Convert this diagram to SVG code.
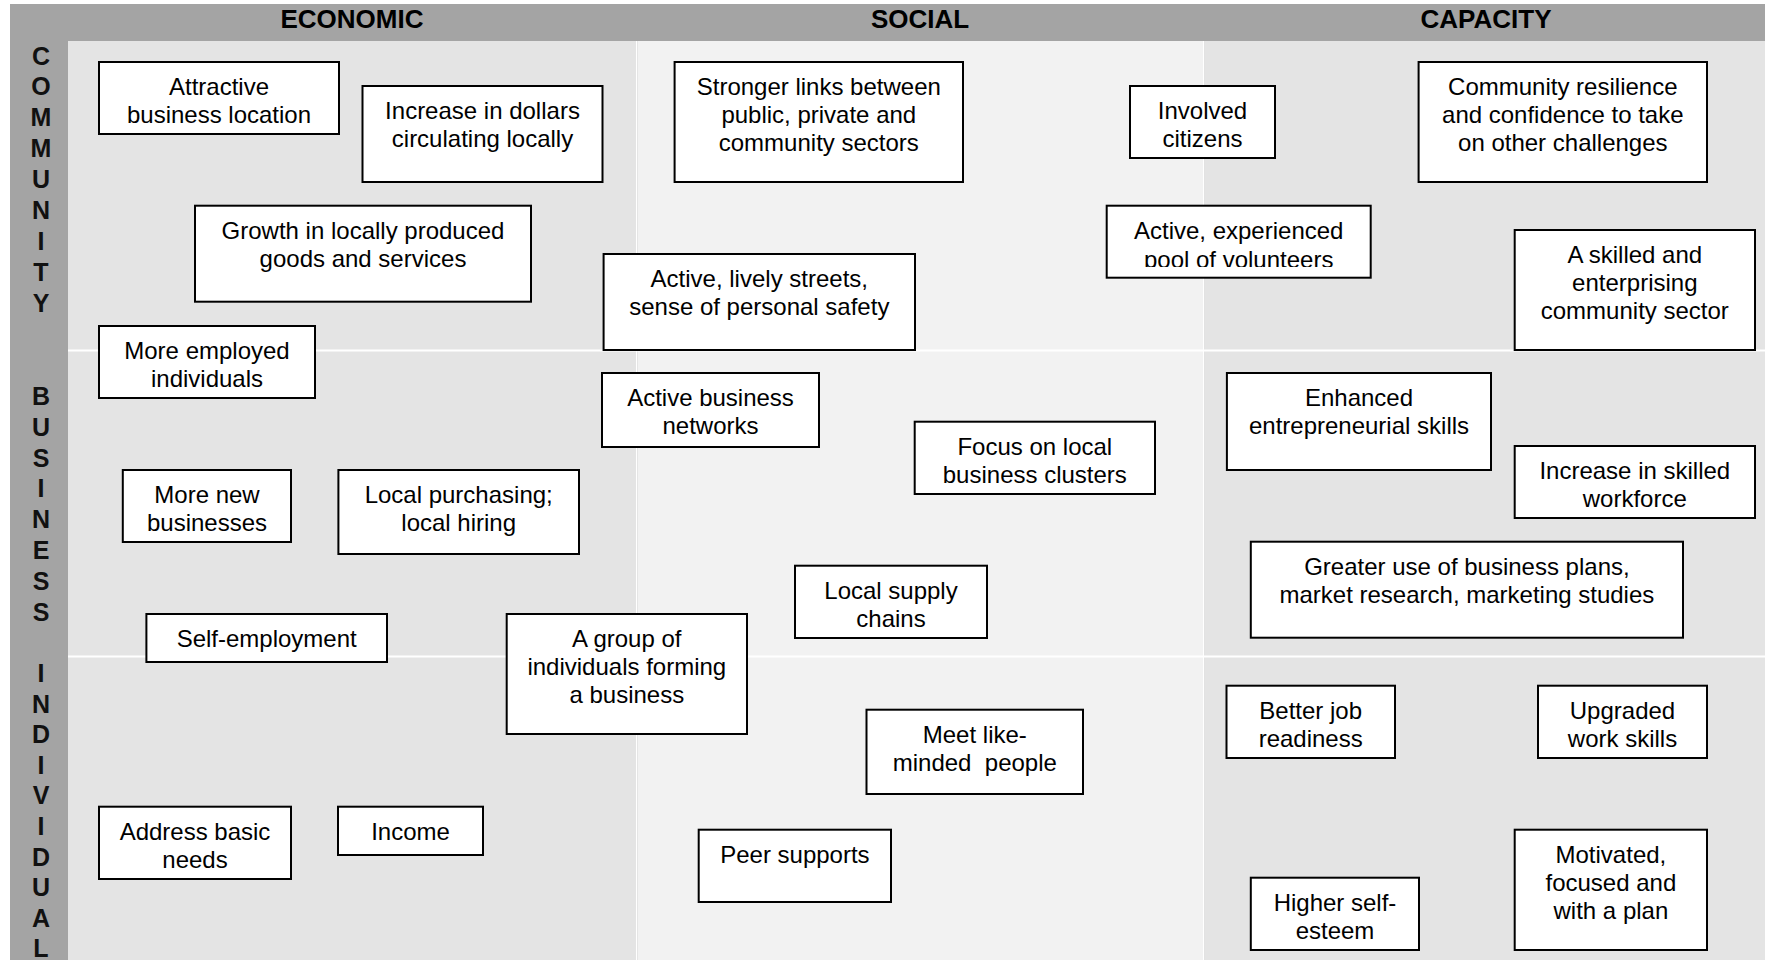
<svg xmlns="http://www.w3.org/2000/svg" width="1765" height="960" viewBox="0 0 1765 960">
<style>
.frame{fill:#a4a4a4}
.colA{fill:#e4e4e4}
.colB{fill:#f2f2f2}
.div{fill:#ffffff}
.hdr{font-family:"Liberation Sans",Arial,sans-serif;font-weight:bold;font-size:26px;fill:#000;text-anchor:middle}
.side{font-family:"Liberation Sans",Arial,sans-serif;font-weight:bold;font-size:25px;fill:#111;text-anchor:middle}
.box rect{fill:#fff;stroke:#000;stroke-width:2}
.box text{font-family:"Liberation Sans",Arial,sans-serif;font-size:24px;fill:#000;text-anchor:middle}
</style>
<defs>
<clipPath id="clipB7"><rect x="1100" y="200" width="280" height="67"/></clipPath>
</defs>
<rect x="0" y="0" width="1765" height="960" fill="#fff"/>
<g id="background">
<rect class="frame" x="10" y="4" width="1755" height="956"/>
<rect class="colA" x="68" y="41" width="568" height="919"/>
<rect class="colB" x="637.5" y="41" width="565.5" height="919"/>
<rect class="colA" x="1204.5" y="41" width="560.5" height="919"/>
<rect class="div" x="636" y="41" width="1.5" height="919"/>
<rect class="div" x="1203" y="41" width="1.5" height="919"/>
<rect class="div" x="68" y="349.5" width="1697" height="2"/>
<rect class="div" x="68" y="655.5" width="1697" height="2"/>
</g>
<g id="headers">
<text class="hdr" x="352" y="28">ECONOMIC</text>
<text class="hdr" x="920" y="28">SOCIAL</text>
<text class="hdr" x="1486" y="28">CAPACITY</text>
</g>
<g id="row-labels">
<text class="side" x="41" y="64.5"><tspan x="41">C</tspan><tspan x="41" dy="30.9">O</tspan><tspan x="41" dy="30.9">M</tspan><tspan x="41" dy="30.9">M</tspan><tspan x="41" dy="30.9">U</tspan><tspan x="41" dy="30.9">N</tspan><tspan x="41" dy="30.9">I</tspan><tspan x="41" dy="30.9">T</tspan><tspan x="41" dy="30.9">Y</tspan></text>
<text class="side" x="41" y="405"><tspan x="41">B</tspan><tspan x="41" dy="30.8">U</tspan><tspan x="41" dy="30.8">S</tspan><tspan x="41" dy="30.8">I</tspan><tspan x="41" dy="30.8">N</tspan><tspan x="41" dy="30.8">E</tspan><tspan x="41" dy="30.8">S</tspan><tspan x="41" dy="30.8">S</tspan></text>
<text class="side" x="41" y="682"><tspan x="41">I</tspan><tspan x="41" dy="30.6">N</tspan><tspan x="41" dy="30.6">D</tspan><tspan x="41" dy="30.6">I</tspan><tspan x="41" dy="30.6">V</tspan><tspan x="41" dy="30.6">I</tspan><tspan x="41" dy="30.6">D</tspan><tspan x="41" dy="30.6">U</tspan><tspan x="41" dy="30.6">A</tspan><tspan x="41" dy="30.6">L</tspan></text>
</g>
<g id="connectors"></g>
<g id="n1" class="box"><rect x="99" y="62" width="240" height="72"/><text x="219" y="95">Attractive</text><text x="219" y="123">business location</text></g>
<g id="n2" class="box"><rect x="362.5" y="86" width="240" height="96"/><text x="482.5" y="119">Increase in dollars</text><text x="482.5" y="147">circulating locally</text></g>
<g id="n3" class="box"><rect x="195" y="205.7" width="336" height="96"/><text x="363" y="239">Growth in locally produced</text><text x="363" y="267">goods and services</text></g>
<g id="n4" class="box"><rect x="99" y="326" width="216" height="72"/><text x="207" y="359">More employed</text><text x="207" y="387">individuals</text></g>
<g id="n5" class="box"><rect x="674.6" y="62" width="288.4" height="120"/><text x="818.8" y="95">Stronger links between</text><text x="818.8" y="123">public, private and</text><text x="818.8" y="151">community sectors</text></g>
<g id="n6" class="box"><rect x="1130" y="86" width="145" height="72"/><text x="1202.5" y="119">Involved</text><text x="1202.5" y="147">citizens</text></g>
<g id="n7" class="box"><rect x="1106.7" y="205.7" width="264" height="72"/><text x="1238.7" y="239">Active, experienced</text><text x="1238.7" y="268" clip-path="url(#clipB7)">pool of volunteers</text></g>
<g id="n8" class="box"><rect x="603.6" y="254" width="311.4" height="96"/><text x="759.3" y="287">Active, lively streets,</text><text x="759.3" y="315">sense of personal safety</text></g>
<g id="n9" class="box"><rect x="1418.6" y="62" width="288.4" height="120"/><text x="1562.8" y="95">Community resilience</text><text x="1562.8" y="123">and confidence to take</text><text x="1562.8" y="151">on other challenges</text></g>
<g id="n10" class="box"><rect x="1514.7" y="230" width="240.3" height="120"/><text x="1634.8" y="263">A skilled and</text><text x="1634.8" y="291">enterprising</text><text x="1634.8" y="319">community sector</text></g>
<g id="n11" class="box"><rect x="122.8" y="470" width="168.2" height="72"/><text x="207" y="503">More new</text><text x="207" y="531">businesses</text></g>
<g id="n12" class="box"><rect x="338.4" y="470" width="240.6" height="84"/><text x="458.7" y="503">Local purchasing;</text><text x="458.7" y="531">local hiring</text></g>
<g id="n13" class="box"><rect x="146.4" y="614" width="240.6" height="48"/><text x="266.7" y="647">Self-employment</text></g>
<g id="n14" class="box"><rect x="602" y="373" width="217" height="74"/><text x="710.5" y="406">Active business</text><text x="710.5" y="434">networks</text></g>
<g id="n15" class="box"><rect x="914.7" y="421.7" width="240.3" height="72.3"/><text x="1034.8" y="455">Focus on local</text><text x="1034.8" y="483">business clusters</text></g>
<g id="n16" class="box"><rect x="795" y="565.7" width="192" height="72.3"/><text x="891" y="599">Local supply</text><text x="891" y="627">chains</text></g>
<g id="n17" class="box"><rect x="506.7" y="614" width="240.3" height="120"/><text x="626.8" y="647">A group of</text><text x="626.8" y="675">individuals forming</text><text x="626.8" y="703">a business</text></g>
<g id="n18" class="box"><rect x="1226.9" y="373" width="264.1" height="97"/><text x="1359" y="406">Enhanced</text><text x="1359" y="434">entrepreneurial skills</text></g>
<g id="n19" class="box"><rect x="1514.7" y="446" width="240.3" height="72"/><text x="1634.8" y="479">Increase in skilled</text><text x="1634.8" y="507">workforce</text></g>
<g id="n20" class="box"><rect x="1250.8" y="541.7" width="432.2" height="96"/><text x="1466.9" y="575">Greater use of business plans,</text><text x="1466.9" y="603">market research, marketing studies</text></g>
<g id="n21" class="box"><rect x="99" y="806.7" width="192" height="72.3"/><text x="195" y="840">Address basic</text><text x="195" y="868">needs</text></g>
<g id="n22" class="box"><rect x="338" y="806.7" width="145" height="48.3"/><text x="410.5" y="840">Income</text></g>
<g id="n23" class="box"><rect x="866.5" y="709.7" width="216.5" height="84.3"/><text x="974.8" y="743">Meet like-</text><text x="974.8" y="771" xml:space="preserve">minded  people</text></g>
<g id="n24" class="box"><rect x="698.7" y="829.7" width="192.3" height="72.3"/><text x="794.9" y="863">Peer supports</text></g>
<g id="n25" class="box"><rect x="1226.5" y="685.7" width="168.5" height="72.3"/><text x="1310.7" y="719">Better job</text><text x="1310.7" y="747">readiness</text></g>
<g id="n26" class="box"><rect x="1538" y="685.7" width="169" height="72.3"/><text x="1622.5" y="719">Upgraded</text><text x="1622.5" y="747">work skills</text></g>
<g id="n27" class="box"><rect x="1250.8" y="877.7" width="168.2" height="72.3"/><text x="1335" y="911">Higher self-</text><text x="1335" y="939">esteem</text></g>
<g id="n28" class="box"><rect x="1514.7" y="829.7" width="192.3" height="120.3"/><text x="1610.9" y="863">Motivated,</text><text x="1610.9" y="891">focused and</text><text x="1610.9" y="919">with a plan</text></g>
</svg>
